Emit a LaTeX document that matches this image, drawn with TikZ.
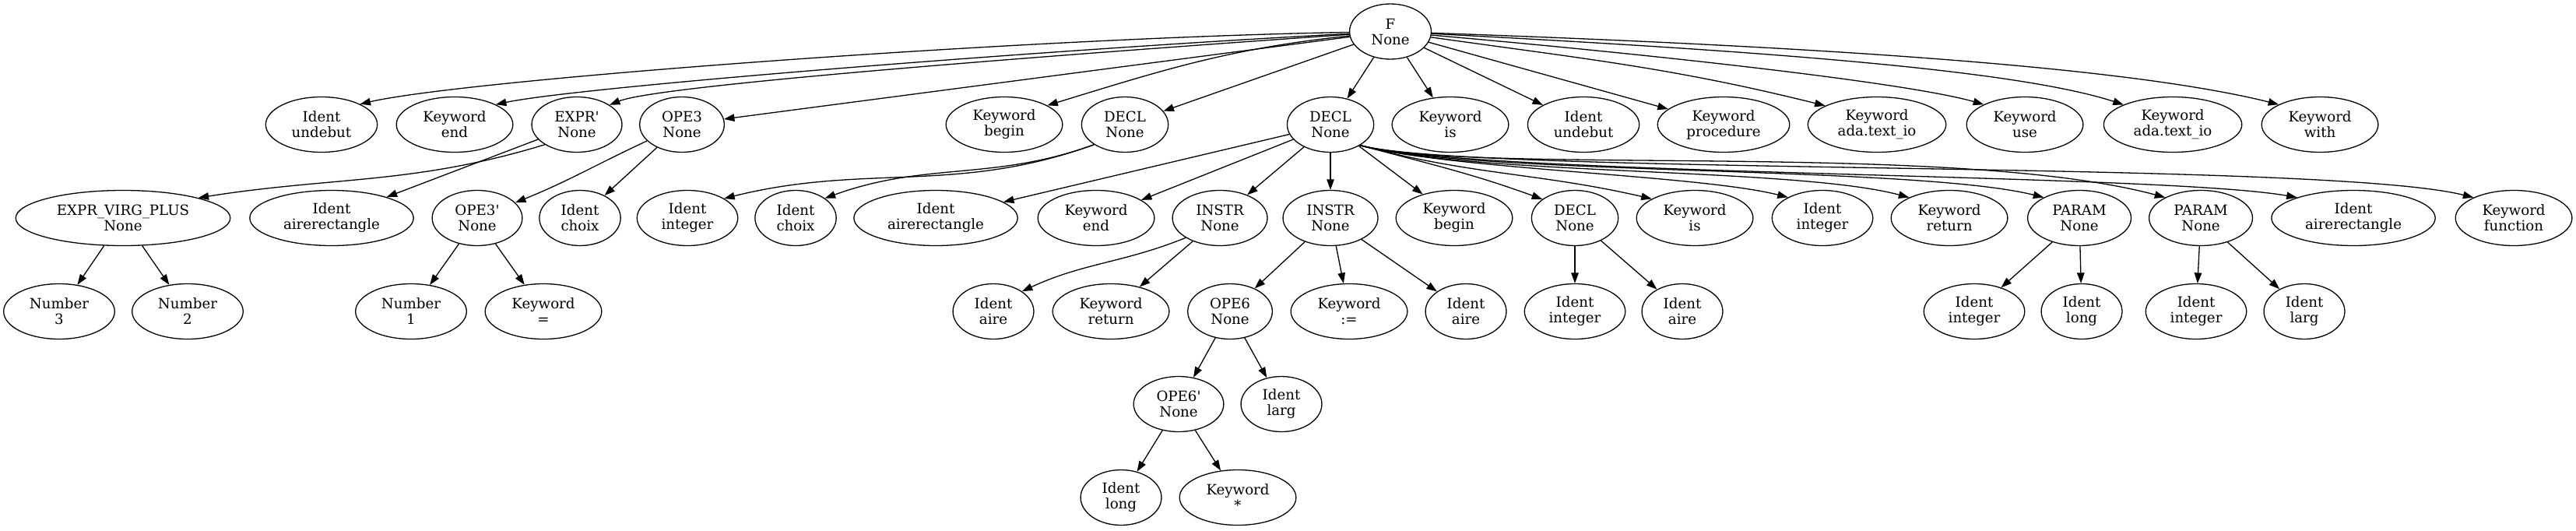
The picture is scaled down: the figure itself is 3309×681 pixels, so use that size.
\documentclass[tikz,border=0pt]{standalone}
\usepackage{fontspec}
\setmainfont{DejaVu Serif}
\usetikzlibrary{arrows.meta,shapes.geometric}

\begin{document}
\begin{tikzpicture}[
  x=0.1pt, y=0.1pt,
  >={Triangle[length=1.35pt, width=0.95pt]},
  font=\fontsize{1.82pt}{2pt}\selectfont,
  tok/.style={draw, ellipse, line width=0.13pt, align=center, inner xsep=1.24pt, inner ysep=0pt, minimum width=10.2pt, minimum height=7.1pt},
  edge/.style={->, line width=0.13pt}
]
\path[use as bounding box] (0,0) rectangle (3309,-681);

% root
\node[tok] (F) at (1786,-40.5) {F\\None};

% first level
\node[tok] (u1)  at (413,-160)  {Ident\\undebut};
\node[tok] (k1)  at (584,-160)  {Keyword\\end};
\node[tok] (e1)  at (741,-160)  {EXPR\textquotesingle\\None};
\node[tok] (o3)  at (876,-160)  {OPE3\\None};
\node[tok] (kb1) at (1290,-160) {Keyword\\begin};
\node[tok] (d1)  at (1445,-160) {DECL\\None};
\node[tok] (d2)  at (1709,-160) {DECL\\None};
\node[tok] (ki1) at (1863,-160) {Keyword\\is};
\node[tok] (u2)  at (2034,-160) {Ident\\undebut};
\node[tok] (kp)  at (2214,-160) {Keyword\\procedure};
\node[tok] (ka1) at (2411,-160) {Keyword\\ada.text\_io};
\node[tok] (ku)  at (2601,-160) {Keyword\\use};
\node[tok] (ka2) at (2791,-160) {Keyword\\ada.text\_io};
\node[tok] (kw)  at (2980,-160) {Keyword\\with};

% second level
\node[tok] (evp) at (158,-280)  {EXPR\_VIRG\_PLUS\\None};
\node[tok] (ar1) at (426,-280)  {Ident\\airerectangle};
\node[tok] (o3p) at (613,-280)  {OPE3\textquotesingle\\None};
\node[tok] (ch1) at (745,-280)  {Ident\\choix};
\node[tok] (in1) at (883,-280)  {Ident\\integer};
\node[tok] (ch2) at (1022,-280) {Ident\\choix};
\node[tok] (ar2) at (1202,-280) {Ident\\airerectangle};
\node[tok] (ke2) at (1408,-280) {Keyword\\end};
\node[tok] (is1) at (1567,-280) {INSTR\\None};
\node[tok] (is2) at (1709,-280) {INSTR\\None};
\node[tok] (kb2) at (1868,-280) {Keyword\\begin};
\node[tok] (d3)  at (2023,-280) {DECL\\None};
\node[tok] (ki2) at (2177,-280) {Keyword\\is};
\node[tok] (in2) at (2341,-280) {Ident\\integer};
\node[tok] (kr2) at (2504,-280) {Keyword\\return};
\node[tok] (p1)  at (2671,-280) {PARAM\\None};
\node[tok] (p2)  at (2827,-280) {PARAM\\None};
\node[tok] (ar3) at (3023,-280) {Ident\\airerectangle};
\node[tok] (kf)  at (3229,-280) {Keyword\\function};

% third level
\node[tok] (n3)  at (76,-400)   {Number\\3};
\node[tok] (n2)  at (241,-400)  {Number\\2};
\node[tok] (n1)  at (528,-400)  {Number\\1};
\node[tok] (keq) at (698,-400)  {Keyword\\=};
\node[tok] (ai1) at (1276,-400) {Ident\\aire};
\node[tok] (kr1) at (1427,-400) {Keyword\\return};
\node[tok] (o6)  at (1580,-400) {OPE6\\None};
\node[tok] (kas) at (1733,-400) {Keyword\\:=};
\node[tok] (ai2) at (1883,-400) {Ident\\aire};
\node[tok] (in3) at (2023,-400) {Ident\\integer};
\node[tok] (ai3) at (2161,-400) {Ident\\aire};
\node[tok] (in4) at (2536,-400) {Ident\\integer};
\node[tok] (lo1) at (2674,-400) {Ident\\long};
\node[tok] (in5) at (2821,-400) {Ident\\integer};
\node[tok] (la1) at (2960,-400) {Ident\\larg};

% fourth and fifth level
\node[tok] (o6p) at (1514,-519) {OPE6\textquotesingle\\None};
\node[tok] (la2) at (1646,-519) {Ident\\larg};
\node[tok] (lo2) at (1440,-639) {Ident\\long};
\node[tok] (kst) at (1590,-639) {Keyword\\*};

% edges from the root
\draw[edge] (F) to[out=181, in=13, out distance=42pt, in distance=14pt] (u1.28);
\draw[edge] (F) to[out=183, in=12, out distance=38pt, in distance=11pt] (k1.26);
\draw[edge] (F) to[out=184, in=22, out distance=34pt, in distance=7pt] (e1.31);
\draw[edge] (F) -- (o3);
\draw[edge] (F) to[out=186, in=17] (kb1.24);
\draw[edge] (F) -- (d1);
\draw[edge] (F) -- (d2);
\draw[edge] (F) -- (ki1);
\draw[edge] (F) -- (u2);
\draw[edge] (F) -- (kp);
\draw[edge] (F) to[out=-8, in=166] (ka1.160);
\draw[edge] (F) to[out=-5, in=164, out distance=30pt, in distance=10pt] (ku.154);
\draw[edge] (F) to[out=-3, in=162, out distance=40pt, in distance=15pt] (ka2.158);
\draw[edge] (F) to[out=-2, in=166, out distance=50pt, in distance=20pt] (kw.154);

% second level edges
\draw[edge] (e1.212) to[out=197, in=9] (evp.15);
\draw[edge] (e1) -- (ar1);
\draw[edge] (o3) to[out=205, in=22] (o3p);
\draw[edge] (o3) -- (ch1);
\draw[edge] (d1.213) to[out=200, in=14] (in1.28);
\draw[edge] (d1.213) to[out=200, in=20] (ch2.34);
\foreach \c in {ar2, ke2, is1, is2, kb2}
  \draw[edge] (d2) -- (\c);
\draw[edge] (d2.-35) to[out=-15, in=160] (d3.150);
\draw[edge] (d2.-35) to[out=-15, in=167] (ki2.156);
\draw[edge] (d2.-35) to[out=-15, in=166, out distance=12pt, in distance=12pt] (in2.149);
\draw[edge] (d2.-35) to[out=-15, in=165, out distance=15pt, in distance=15pt] (kr2.153);
\draw[edge] (d2.-35) to[out=-15, in=166, out distance=15pt, in distance=17pt] (p1.150);
\draw[edge] (d2.-35) to[out=-15, in=165, out distance=15pt, in distance=28pt] (p2.150);
\draw[edge] (d2.-35) to[out=-15, in=170, out distance=15pt, in distance=18pt] (ar3.160);
\draw[edge] (d2.-35) to[out=-15, in=166, out distance=15pt, in distance=20pt] (kf.153);

% third level edges
\draw[edge] (evp) -- (n3);
\draw[edge] (evp) -- (n2);
\draw[edge] (o3p) -- (n1);
\draw[edge] (o3p) -- (keq);
\draw[edge] (is1.210) to[out=202, in=25] (ai1.35);
\draw[edge] (is1) -- (kr1);
\draw[edge] (is2) -- (o6);
\draw[edge] (is2) -- (kas);
\draw[edge] (is2) -- (ai2);
\draw[edge] (d3) -- (in3);
\draw[edge] (d3) -- (ai3);
\draw[edge] (p1) -- (in4);
\draw[edge] (p1) -- (lo1);
\draw[edge] (p2) -- (in5);
\draw[edge] (p2) -- (la1);

% lower levels
\draw[edge] (o6) -- (o6p);
\draw[edge] (o6) -- (la2);
\draw[edge] (o6p) -- (lo2);
\draw[edge] (o6p) -- (kst);
\end{tikzpicture}
\end{document}
